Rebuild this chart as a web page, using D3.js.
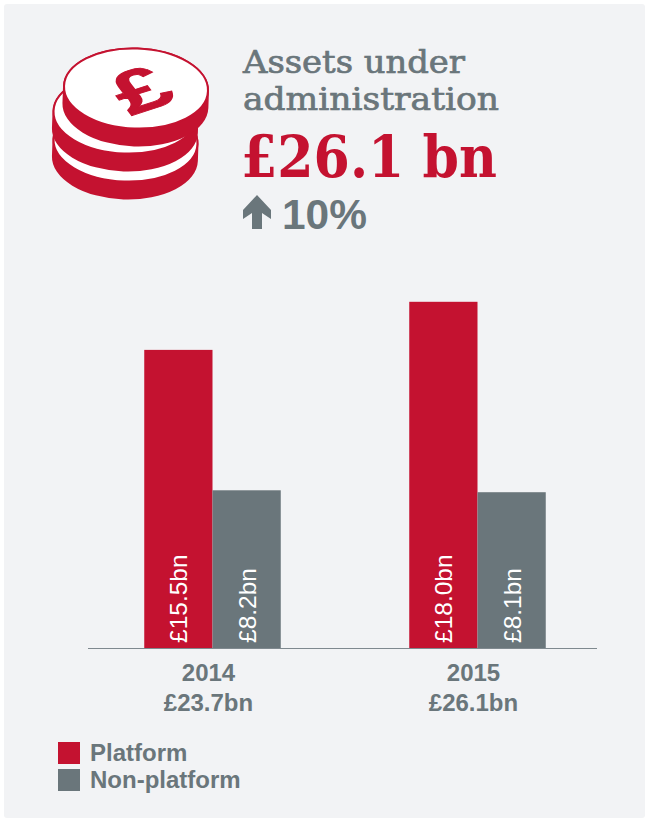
<!DOCTYPE html>
<html>
<head>
<meta charset="utf-8">
<script src="https://cdn.jsdelivr.net/npm/d3@7"></script>
<style>
  html, body { margin: 0; padding: 0; background: #fff; }
  svg { display: block; }
  .sans { font-family: "Liberation Sans", Arial, sans-serif; }
  .slab { font-family: "DejaVu Serif", serif; }
</style>
</head>
<body>
<div id="chart"></div>
<script>
var years = ["2014", "2015"];
var yearTotals = ["£23.7bn", "£26.1bn"];
var seriesNames = ["Platform", "Non-platform"];
var platformValues = [15.5, 18.0];
var nonPlatformValues = [8.2, 8.1];
var seriesValues = [platformValues, nonPlatformValues];

var RED = "#c41230";
var GREY = "#6a767b";
var PANEL = "#f2f3f5";

var svg = d3.select("#chart").append("svg")
  .attr("width", 645)
  .attr("height", 818);

svg.append("rect")
  .attr("x", 4).attr("y", 4)
  .attr("width", 641).attr("height", 814)
  .attr("rx", 3)
  .attr("fill", PANEL);

// coin stack, drawn from the bottom up
var coins = [
  {cx: 125.5, cy: 141.5, rot: 2},
  {cx: 125.5, cy: 113.5, rot: 2},
  {cx: 136, cy: 88.5, rot: 2}
];
var coinRx = 73, coinRy = 41, coinDepth = 17;

coins.forEach(function(c) {
  var g = svg.append("g")
    .attr("transform", "translate(" + c.cx + "," + c.cy + ") rotate(" + c.rot + ")");
  g.append("path")
    .attr("d", "M" + (-coinRx) + ",0 A" + coinRx + "," + coinRy + " 0 0 1 " + coinRx + ",0" +
      " L" + coinRx + "," + coinDepth +
      " A" + coinRx + "," + coinRy + " 0 0 1 " + (-coinRx) + "," + coinDepth + " Z")
    .attr("fill", RED);
  g.append("ellipse")
    .attr("rx", coinRx - 1).attr("ry", coinRy - 1)
    .attr("fill", "#fff")
    .attr("stroke", RED)
    .attr("stroke-width", 2);
});

// pound sign lying on the top coin
svg.append("text")
  .attr("class", "sans")
  .attr("transform", "matrix(1.3,-0.42,0.6,0.78,140.3,89)")
  .attr("text-anchor", "middle")
  .attr("dy", "0.36em")
  .attr("font-size", 68)
  .attr("font-weight", 700)
  .attr("fill", RED)
  .attr("stroke", RED)
  .attr("stroke-width", 1)
  .text("£");

// heading block
svg.append("text").attr("class", "slab")
  .attr("x", 243).attr("y", 73)
  .attr("font-size", 31)
  .attr("textLength", 222).attr("lengthAdjust", "spacingAndGlyphs")
  .attr("fill", GREY).attr("stroke", GREY).attr("stroke-width", 0.7)
  .text("Assets under");
svg.append("text").attr("class", "slab")
  .attr("x", 243).attr("y", 110)
  .attr("font-size", 31)
  .attr("textLength", 256).attr("lengthAdjust", "spacingAndGlyphs")
  .attr("fill", GREY).attr("stroke", GREY).attr("stroke-width", 0.7)
  .text("administration");
svg.append("text").attr("class", "slab")
  .attr("x", 241).attr("y", 177)
  .attr("font-size", 58)
  .attr("font-weight", 700)
  .attr("textLength", 256).attr("lengthAdjust", "spacingAndGlyphs")
  .attr("fill", RED)
  .text("£26.1 bn");
svg.append("text").attr("class", "sans")
  .attr("x", 282).attr("y", 229)
  .attr("font-size", 43)
  .attr("font-weight", 700)
  .attr("textLength", 85).attr("lengthAdjust", "spacingAndGlyphs")
  .attr("fill", GREY)
  .text("10%");

// up arrow next to the percentage
svg.append("path")
  .attr("d", "M257,195 L271,210 L271,219 L262,213 L262,229 L252,229 L252,213 L243,219 L243,210 Z")
  .attr("fill", GREY);

// bars
var x0 = d3.scalePoint().domain(years).range([212.5, 477.5]);
var x1 = d3.scaleBand().domain(seriesNames).range([-68.25, 68.25]);
var y = d3.scaleLinear().domain([0, 18]).range([648, 301.8]);
var colour = d3.scaleOrdinal().domain(seriesNames).range([RED, GREY]);

var groups = svg.selectAll("g.year")
  .data(years)
  .enter().append("g")
  .attr("class", "year")
  .attr("transform", function(d) { return "translate(" + x0(d) + ",0)"; });

groups.each(function(year, yi) {
  var g = d3.select(this);
  seriesNames.forEach(function(name, si) {
    var v = seriesValues[si][yi];
    g.append("rect")
      .attr("x", x1(name))
      .attr("y", y(v))
      .attr("width", x1.bandwidth())
      .attr("height", y(0) - y(v))
      .attr("fill", colour(name));
    g.append("text")
      .attr("class", "sans")
      .attr("transform", "translate(" + (x1(name) + x1.bandwidth() / 2 + 0.5) + "," + (y(0) - 5) + ") rotate(-90)")
      .attr("dy", "0.35em")
      .attr("font-size", 24.5)
      .attr("fill", "#fff")
      .text("£" + v.toFixed(1) + "bn");
  });
});

// baseline
svg.append("line")
  .attr("x1", 88).attr("x2", 597)
  .attr("y1", 648.5).attr("y2", 648.5)
  .attr("stroke", "#7f898f")
  .attr("stroke-width", 1);

// category labels
var xAxis = svg.append("g").attr("class", "sans");
years.forEach(function(year, i) {
  xAxis.append("text")
    .attr("x", x0(year) - 4).attr("y", 681)
    .attr("text-anchor", "middle")
    .attr("font-size", 24).attr("font-weight", 700)
    .attr("fill", GREY)
    .text(year);
  xAxis.append("text")
    .attr("x", x0(year) - 4).attr("y", 711)
    .attr("text-anchor", "middle")
    .attr("font-size", 24).attr("font-weight", 700)
    .attr("fill", GREY)
    .text(yearTotals[i]);
});

// legend
var legend = svg.selectAll("g.legend")
  .data(seriesNames)
  .enter().append("g")
  .attr("class", "legend")
  .attr("transform", function(d, i) { return "translate(58," + (742 + i * 27) + ")"; });
legend.append("rect")
  .attr("width", 22).attr("height", 22)
  .attr("fill", function(d) { return colour(d); });
legend.append("text")
  .attr("class", "sans")
  .attr("x", 32).attr("y", 19)
  .attr("font-size", 24).attr("font-weight", 700)
  .attr("fill", GREY)
  .text(function(d) { return d; });
</script>
</body>
</html>
